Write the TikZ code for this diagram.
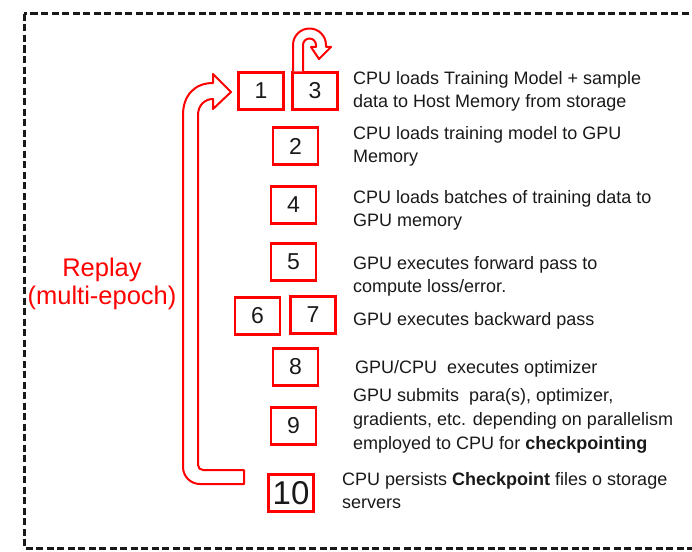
\documentclass[tikz,border=0pt]{standalone}
\usepackage{fontspec}
\setmainfont{Liberation Sans}
\begin{document}
\begin{tikzpicture}[x=1pt,y=-1pt,
  numbox/.style={draw=red, line width=2.4pt, minimum width=45pt, minimum height=37pt,
    inner sep=0pt, font=\fontsize{23}{23}\selectfont, text=black!90},
  steptext/.style={anchor=west, align=left, inner sep=0pt, text=black!90,
    font=\fontsize{18}{23}\selectfont},
  hollow/.style={draw=red, line width=2pt, line join=round, fill=white}
]
\useasboundingbox (0,0) rectangle (692,551);
\begin{scope}
\clip (0,0) rectangle (692,551);
\draw[line width=3pt, black!90, dash pattern=on 7pt off 3.5pt] (24,14) rectangle (720,548);
\end{scope}

% numbered step boxes
\node[numbox] (b1) at (261,91) {1};
\node[numbox] (b3) at (315,91) {3};
\node[numbox] (b2) at (295.5,146) {2};
\node[numbox] (b4) at (293.5,205) {4};
\node[numbox] (b5) at (293.5,262) {5};
\node[numbox] (b6) at (257.5,316) {6};
\node[numbox] (b7) at (313,315) {7};
\node[numbox] (b8) at (295.5,367) {8};
\node[numbox] (b9) at (293.5,426) {9};
\node[numbox, font=\fontsize{33}{33}\selectfont] (b10) at (291,493) {10};

% step descriptions
\node[steptext] (t1) at (353,91) {CPU loads Training Model + sample\\data to Host Memory from storage};
\node[steptext] (t2) at (353,146.5) {CPU loads training model to GPU\\Memory};
\node[steptext] (t4) at (353,210) {CPU loads batches of training data to\\GPU memory};
\node[steptext] (t5) at (353,276.5) {GPU executes forward pass to\\compute loss/error.};
\node[steptext] (t67) at (353,321) {GPU executes backward pass};
\node[steptext] (t8) at (355,369) {GPU/CPU\ \ executes optimizer};
\node[steptext, font=\fontsize{18}{24}\selectfont] (t9) at (353,421) {GPU submits\ \ para(s), optimizer,\\gradients, etc. depending on parallelism\\employed to CPU for \textbf{checkpointing}};
\node[steptext] (t10) at (342,491) {CPU persists \textbf{Checkpoint} files o storage\\servers};

% replay label
\node[text=red, align=center, inner sep=0pt, font=\fontsize{25.5}{28.5}\selectfont] (replay) at (102,284) {Replay\\(multi-epoch)};

% hollow return arrow from step 10 back to step 1
\draw[hollow] (244,470) -- (203,470)
  .. controls (200.2,470) and (198,467.8) .. (198,465)
  -- (198,115)
  .. controls (198,105) and (205,99) .. (213,99)
  -- (213,109) -- (231,92) -- (213,74) -- (213,83)
  .. controls (195,83) and (183,95) .. (183,115)
  -- (183,467)
  .. controls (183,476.4) and (190.6,484) .. (200,484)
  -- (244,484) -- cycle;

% hollow loop arrow on step 3
\draw[hollow] (b3.north -| 293,0) -- (293,45)
  .. controls (293,35.9) and (300.4,28.5) .. (309.5,28.5)
  .. controls (318.6,28.5) and (326,35.9) .. (326,45)
  -- (326,47) -- (331,47) -- (319,59) -- (311,47) -- (316,47) -- (316,45)
  .. controls (316,41.4) and (313.1,38.5) .. (309.5,38.5)
  .. controls (305.9,38.5) and (303,41.4) .. (303,45)
  -- (b3.north -| 303,0);
\end{tikzpicture}
\end{document}
